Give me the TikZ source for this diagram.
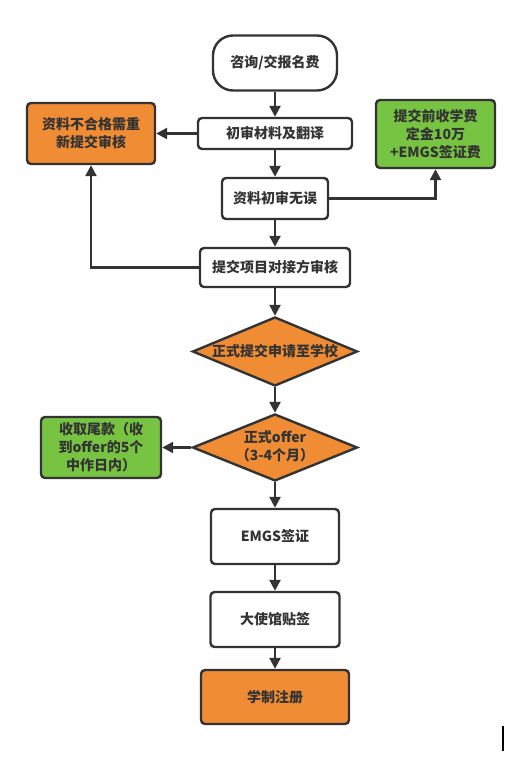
\documentclass[tikz,border=0pt]{standalone}
\usepackage{fontspec}
\setmainfont{Noto Sans CJK SC}
\usetikzlibrary{arrows.meta,shapes.geometric}

\definecolor{boxorange}{HTML}{F08C33}
\definecolor{boxgreen}{HTML}{77C443}
\definecolor{inkgray}{HTML}{333333}

\begin{document}
\begin{tikzpicture}[x=1pt,y=-1pt,font=\fontsize{14}{18}\selectfont\bfseries,
    text=inkgray, line width=2.4pt, >={Triangle[length=11pt,width=11pt]}]
      \useasboundingbox (0,0) rectangle (504,762);
      \tikzstyle{stepbox}=[draw=inkgray, rounded corners=4pt, fill=white,
          align=center, inner sep=0pt]
      \tikzstyle{orangebox}=[stepbox, fill=boxorange]
      \tikzstyle{greenbox}=[stepbox, fill=boxgreen]
      \tikzstyle{decision}=[diamond, draw=inkgray, fill=boxorange, inner sep=0pt,
          minimum width=165pt, minimum height=69pt, align=center]
      \tikzstyle{link}=[draw=inkgray, ->]
      % main column
      \node [stepbox, rounded corners=20pt, minimum width=124pt, minimum height=55pt]
          (consult) at (275,63) {咨询/交报名费};
      \node [stepbox, minimum width=154pt, minimum height=31pt]
          (firstcheck) at (275,133.5) {初审材料及翻译};
      \node [stepbox, minimum width=106pt, minimum height=41pt]
          (checkok) at (275,198.5) {资料初审无误};
      \node [stepbox, minimum width=150pt, minimum height=39pt]
          (partner) at (275,267.5) {提交项目对接方审核};
      \node [decision] (apply) at (275,351.5) {\makebox[0pt]{正式提交申请至学校}};
      \node [decision, minimum height=67pt] (offer) at (275,447.5)
          {\makebox[0pt]{\begin{tabular}{@{}c@{}}正式offer\\（3-4个月）\end{tabular}}};
      \node [stepbox, minimum width=128pt, minimum height=55pt]
          (visa) at (275,536.5) {EMGS签证};
      \node [stepbox, minimum width=129pt, minimum height=55pt]
          (embassy) at (275,619.5) {大使馆贴签};
      \node [orangebox, minimum width=148pt, minimum height=54pt]
          (enrol) at (275,697) {学制注册};
      % side boxes
      \node [orangebox, minimum width=128pt, minimum height=61pt]
          (resubmit) at (91,133.5) {资料不合格需重\\新提交审核};
      \node [greenbox, minimum width=119pt, minimum height=68pt]
          (deposit) at (435.5,134) {提交前收学费\\定金10万\\+EMGS签证费};
      \node [greenbox, minimum width=120pt, minimum height=61pt]
          (balance) at (101,447.5) {收取尾款（收\\到offer的5个\\中作日内）};
      % connectors
      \draw [link] (consult) -- (firstcheck);
      \draw [link] (firstcheck) -- (checkok);
      \draw [link] (checkok) -- (partner);
      \draw [link] (partner) -- (apply);
      \draw [link] (apply) -- (offer);
      \draw [link] (offer) -- (visa);
      \draw [link] (visa) -- (embassy);
      \draw [link] (embassy) -- (enrol);
      \draw [link] (firstcheck) -- (resubmit);
      \draw [link] (checkok.east) -| (deposit.south);
      \draw [link] (partner.west) -| (resubmit.south);
      \draw [link] (offer.west) -- (balance.east);
      % stray mark at the lower right
      \fill [black] (502,726) rectangle (504,751);
\end{tikzpicture}
\end{document}
